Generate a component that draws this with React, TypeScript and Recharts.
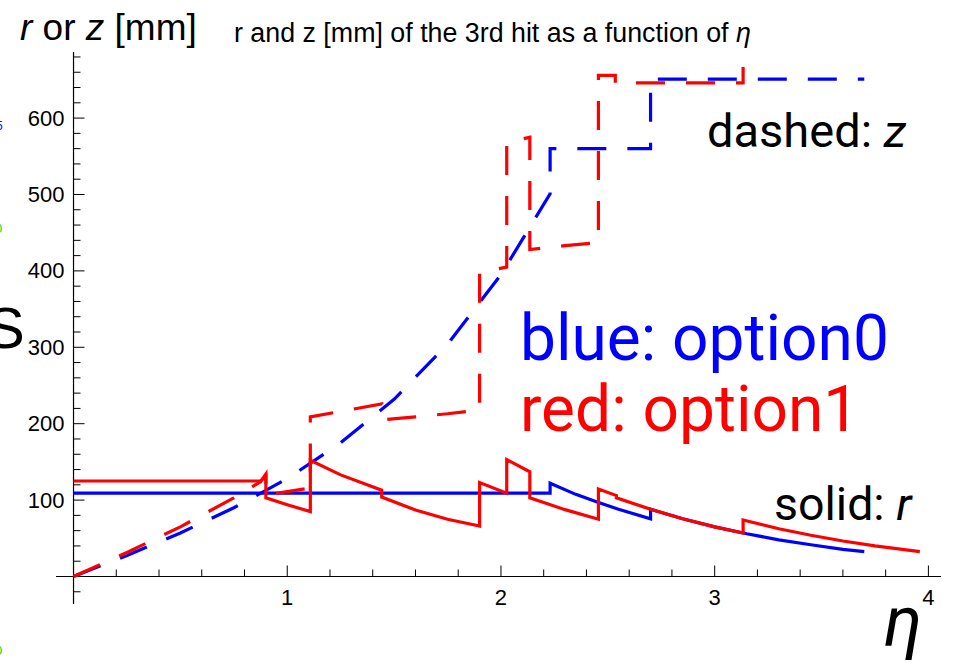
import { LineChart, Line, XAxis, YAxis, ReferenceLine } from 'recharts';

// [eta, value] pairs
const option0R: [number, number][] = [
  [0, 109], [2.23, 109], [2.23, 122], [2.35, 107.5], [2.45, 97.5], [2.55, 88], [2.7, 75.5],
  [2.7, 88], [2.85, 75.5], [3.0, 65], [3.15, 56], [3.3, 48], [3.45, 41.5], [3.6, 35.5], [3.7, 32.5],
];

const option0Z: [number, number][] = [
  [0, 0], [0.25, 27.5], [0.5, 57], [0.75, 90], [1.0, 128], [1.25, 175], [1.5, 232], [1.75, 304],
  [2.0, 395], [2.23, 501], [2.23, 560], [2.7, 560], [2.7, 651], [3.7, 651],
];

const option1R: [number, number][] = [
  [0, 125], [0.875, 125], [0.9, 131], [0.9, 103], [1.0, 94], [1.108, 85], [1.108, 152],
  [1.25, 133], [1.442, 113], [1.442, 104], [1.6, 87], [1.75, 75], [1.9, 66], [1.9, 123],
  [2.027, 109], [2.027, 153], [2.135, 137], [2.135, 103], [2.3, 87.5], [2.456, 75],
  [2.456, 114.5], [2.54, 106], [2.54, 103], [2.7, 88], [2.85, 75.5], [3.0, 65], [3.133, 57],
  [3.133, 74], [3.3, 62.5], [3.45, 54], [3.6, 46.5], [3.75, 40], [3.96, 32.5],
];

const option1Z: [number, number][] = [
  [0, 0], [0.25, 31.5], [0.5, 65], [0.75, 103], [0.875, 124], [0.9, 134], [0.9, 107], [1.0, 111],
  [1.108, 116], [1.108, 209], [1.25, 216], [1.442, 226], [1.442, 205], [1.6, 209], [1.75, 213],
  [1.9, 218], [1.9, 398], [2.027, 405], [2.027, 568], [2.135, 575], [2.135, 428], [2.3, 433],
  [2.456, 437], [2.456, 656], [2.535, 656], [2.535, 646], [2.7, 646], [3.133, 646], [3.133, 667],
];

const xMajorTicks = [1, 2, 3, 4];
const xMinorTicks = [0.2, 0.4, 0.6, 0.8, 1.2, 1.4, 1.6, 1.8, 2.2, 2.4, 2.6, 2.8, 3.2, 3.4, 3.6, 3.8];
const yMajorTicks = [100, 200, 300, 400, 500, 600];
const yMinorTicks = [
  -20, 20, 40, 60, 80, 120, 140, 160, 180, 220, 240, 260, 280, 320, 340, 360, 380,
  420, 440, 460, 480, 520, 540, 560, 580, 620, 640, 660, 680,
];

const toPoints = (arr: [number, number][]) => arr.map(([eta, v]) => ({ eta, v }));

const W = 953;
const H = 665;
const PLOT_LEFT = 56;
const PLOT_RIGHT = 941;
const PLOT_TOP = 52;
const PLOT_BOTTOM = 604;
const X_MIN = -0.082;
const X_MAX = 4.059;
const Y_MIN = -36;
const Y_MAX = 686.5;

// distance from plot edges to the origin lines
const originDx = ((0 - X_MIN) / (X_MAX - X_MIN)) * (PLOT_RIGHT - PLOT_LEFT);
const originDy = ((0 - Y_MIN) / (Y_MAX - Y_MIN)) * (PLOT_BOTTOM - PLOT_TOP);

const labelFont = '"Liberation Sans", Arial, sans-serif';
const bigFont = 'Roboto, "Noto Sans", sans-serif';

const XTick = (props: any) => {
  const { x, y, payload } = props;
  const axisY = y - originDy;
  const major = xMajorTicks.includes(payload.value);
  return (
    <g>
      <line x1={x} x2={x} y1={axisY} y2={axisY - (major ? 11 : 7)} stroke="#000" strokeWidth={1} />
      {major && (
        <text x={x} y={axisY + 21} textAnchor="middle" dominantBaseline="central" fontSize={22} fontFamily={labelFont} fill="#000">
          {payload.value}
        </text>
      )}
    </g>
  );
};

const YTick = (props: any) => {
  const { x, y, payload } = props;
  const axisX = x + originDx;
  const major = yMajorTicks.includes(payload.value);
  return (
    <g>
      <line x1={axisX} x2={axisX + (major ? 11 : 7)} y1={y} y2={y} stroke="#000" strokeWidth={1} />
      {major && (
        <text x={axisX - 9} y={y} textAnchor="end" dominantBaseline="central" fontSize={22} fontFamily={labelFont} fill="#000">
          {payload.value}
        </text>
      )}
    </g>
  );
};

const dash = '29 21';

export default function App() {
  return (
    <div style={{ position: 'relative', width: W, height: H, background: '#fff', overflow: 'hidden' }}>
      <style>{'body{margin:0}'}</style>
      <LineChart
        width={W}
        height={H}
        margin={{ top: PLOT_TOP, right: W - PLOT_RIGHT, bottom: 0, left: 0 }}
      >
        <XAxis
          dataKey="eta"
          type="number"
          domain={[X_MIN, X_MAX]}
          allowDataOverflow
          ticks={[...xMinorTicks, ...xMajorTicks]}
          interval={0}
          height={H - PLOT_BOTTOM}
          axisLine={false}
          tickLine={false}
          tickSize={0}
          tickMargin={0}
          tick={<XTick />}
        />
        <YAxis
          dataKey="v"
          type="number"
          domain={[Y_MIN, Y_MAX]}
          allowDataOverflow
          ticks={[...yMinorTicks, ...yMajorTicks]}
          interval={0}
          width={PLOT_LEFT}
          axisLine={false}
          tickLine={false}
          tickSize={0}
          tickMargin={0}
          tick={<YTick />}
        />
        <ReferenceLine y={0} stroke="#000" strokeWidth={1.2} />
        <ReferenceLine x={0} stroke="#000" strokeWidth={1.2} />
        <Line data={toPoints(option0R)} dataKey="v" type="linear" stroke="#0000ff" strokeWidth={3.2} dot={false} isAnimationActive={false} strokeLinejoin="miter" />
        <Line data={toPoints(option0Z)} dataKey="v" type="linear" stroke="#0000ff" strokeWidth={3.2} strokeDasharray={dash} dot={false} isAnimationActive={false} strokeLinejoin="miter" />
        <Line data={toPoints(option1R)} dataKey="v" type="linear" stroke="#ff0000" strokeWidth={3.2} dot={false} isAnimationActive={false} strokeLinejoin="miter" />
        <Line data={toPoints(option1Z)} dataKey="v" type="linear" stroke="#ff0000" strokeWidth={3.2} strokeDasharray={dash} dot={false} isAnimationActive={false} strokeLinejoin="miter" />
      </LineChart>
      <svg width={W} height={H} style={{ position: 'absolute', left: 0, top: 0, pointerEvents: 'none' }}>
        <text x={20} y={40} fontSize={37} fontFamily={labelFont} fill="#000">
          <tspan fontStyle="italic">r</tspan> or <tspan fontStyle="italic">z</tspan> [mm]
        </text>
        <text x={234} y={42} fontSize={26.8} fontFamily={labelFont} fill="#000">
          r and z [mm] of the 3rd hit as a function of <tspan fontStyle="italic">η</tspan>
        </text>
        <text x={520} y={360} fontSize={64} fontFamily={bigFont} fill="#0000ff">blue: option0</text>
        <text x={520} y={431} fontSize={64} fontFamily={bigFont} fill="#ff0000">red: option1</text>
        <text x={707} y={147} fontSize={47} fontFamily={bigFont} fill="#000">
          dashed: <tspan fontStyle="italic">z</tspan>
        </text>
        <text x={774} y={520} fontSize={46.5} fontFamily={bigFont} fill="#000">
          solid: <tspan fontStyle="italic">r</tspan>
        </text>
        <text x={884} y={646} fontSize={70} fontFamily={bigFont} fontStyle="italic" fill="#000">η</text>
        <text x={-14} y={348} fontSize={58} fontFamily={labelFont} fill="#000">S</text>
        <text x={-4} y={130} fontSize={12} fontFamily={labelFont} fill="#0000ff">5</text>
        <text x={-5} y={233} fontSize={13} fontFamily={labelFont} fill="#00dd00">0</text>
        <text x={-5} y={655} fontSize={13} fontFamily={labelFont} fill="#00dd00">0</text>
      </svg>
    </div>
  );
}
